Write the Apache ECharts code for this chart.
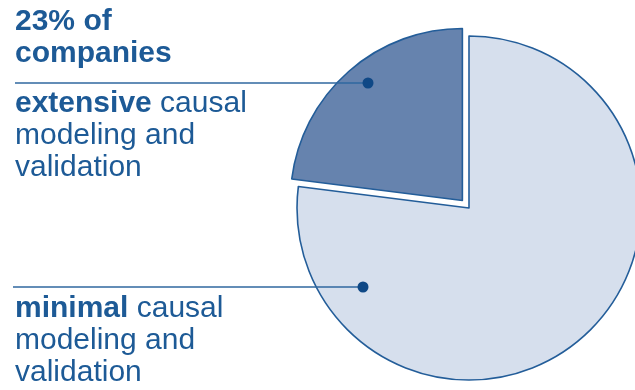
<!DOCTYPE html>
<html>
<head>
<meta charset="utf-8">
<script src="https://cdn.jsdelivr.net/npm/echarts@6/dist/echarts.min.js"></script>
<style>
  html, body { margin: 0; padding: 0; background: #ffffff; }
  #chart { width: 635px; height: 390px; }
</style>
</head>
<body>
<div id="chart"></div>
<script>
// Share of companies by depth of causal modeling and validation
const categories = ['minimal', 'extensive'];
const shares = [77, 23];
const sliceColors = ['#d6dfed', '#6683ae'];

const textColor = '#1d5a96';
const lineColor = '#2f679f';
const dotColor = '#0f4886';
const edgeColor = '#235d99';

const chart = echarts.init(document.getElementById('chart'), null, { renderer: 'canvas' });

const pieData = categories.map((name, i) => ({
  name: name,
  value: shares[i],
  selected: name === 'extensive',
  itemStyle: { color: sliceColors[i] },
  select: { itemStyle: { color: sliceColors[i], borderColor: edgeColor, borderWidth: 1.6 } }
}));

const font = '"Liberation Sans", Arial, Helvetica, sans-serif';
const FS = 30;
const LH = 32;

function block(x, y, lines) {
  return {
    type: 'text',
    left: x,
    top: y,
    z: 100,
    silent: true,
    style: {
      text: lines.join('\n'),
      fill: textColor,
      font: FS + 'px ' + font,
      lineHeight: LH,
      rich: {
        b: { fontWeight: 'bold', fontSize: FS, fontFamily: font, fill: textColor, lineHeight: LH },
        r: { fontWeight: 'normal', fontSize: FS, fontFamily: font, fill: textColor, lineHeight: LH }
      }
    }
  };
}

chart.setOption({
  animation: false,
  backgroundColor: '#ffffff',
  series: [{
    type: 'pie',
    silent: true,
    z: 1,
    center: [469, 208],
    radius: 172,
    startAngle: 90,
    clockwise: true,
    selectedMode: 'single',
    selectedOffset: 10,
    label: { show: false },
    labelLine: { show: false },
    itemStyle: { borderColor: edgeColor, borderWidth: 1.6 },
    emphasis: { disabled: true },
    data: pieData
  }],
  graphic: [
    // top annotation
    block(15, 6, ['{b|23% of}', '{b|companies}']),
    { type: 'line', z: 100, silent: true, shape: { x1: 15, y1: 83, x2: 368, y2: 83 }, style: { stroke: lineColor, lineWidth: 1.6 } },
    { type: 'circle', z: 101, silent: true, shape: { cx: 368, cy: 83, r: 5.5 }, style: { fill: dotColor } },
    block(15, 88, ['{b|extensive}{r| causal}', '{r|modeling and}', '{r|validation}']),
    // bottom annotation
    { type: 'line', z: 100, silent: true, shape: { x1: 13, y1: 287, x2: 363, y2: 287 }, style: { stroke: lineColor, lineWidth: 1.6 } },
    { type: 'circle', z: 101, silent: true, shape: { cx: 363, cy: 287, r: 5.5 }, style: { fill: dotColor } },
    block(15, 293, ['{b|minimal}{r| causal}', '{r|modeling and}', '{r|validation}'])
  ]
});
</script>
</body>
</html>
